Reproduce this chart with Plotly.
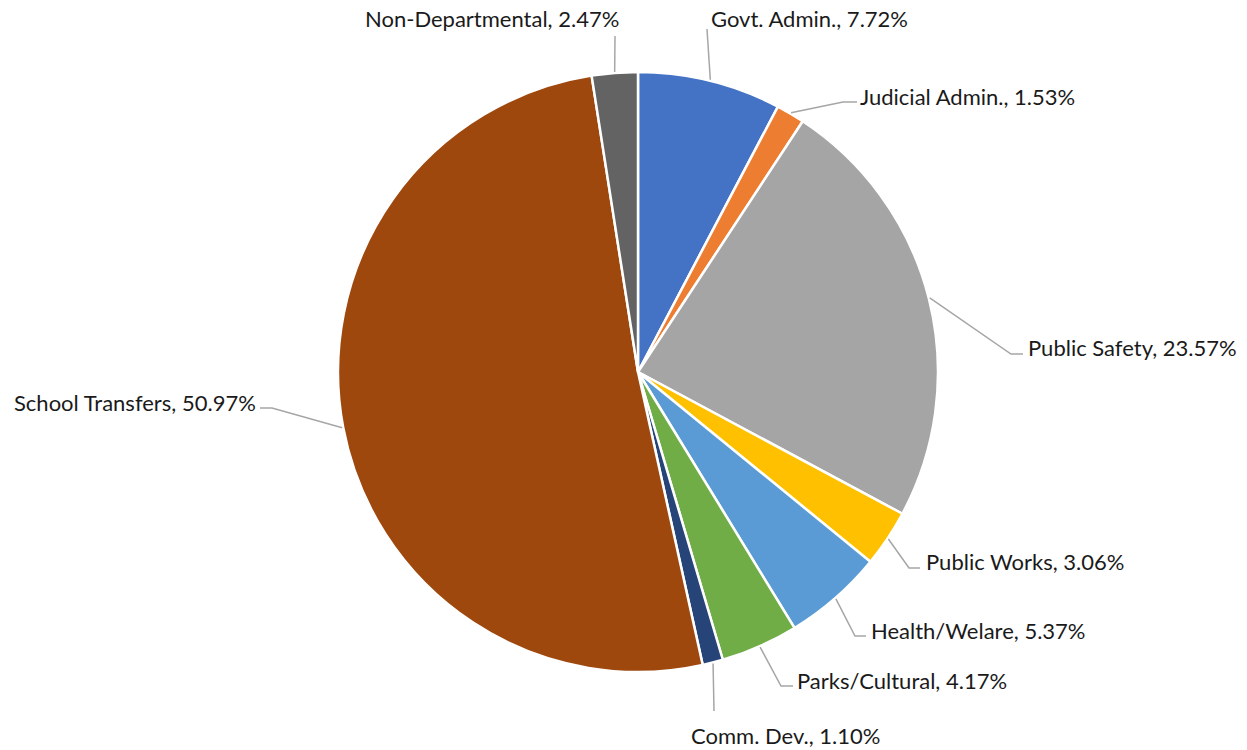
import math
import plotly.graph_objects as go

# Budget shares by function, clockwise from 12 o'clock
categories = ["Govt. Admin.", "Judicial Admin.", "Public Safety", "Public Works",
              "Health/Welare", "Parks/Cultural", "Comm. Dev.", "School Transfers",
              "Non-Departmental"]
shares = [7.72, 1.53, 23.57, 3.06, 5.37, 4.17, 1.10, 50.97, 2.47]

colors = ["#4472C4", "#ED7D31", "#A5A5A5", "#FFC000", "#5B9BD5",
          "#70AD47", "#264478", "#9E480E", "#636363"]

W, H = 1247, 750
CX, CY, R = 638, 372, 300  # pie centre and radius in page pixels

# Label placement (page pixels): leader end point, elbow length, text anchor
# (end_x, end_y, elbow_dx, text_x, text_y, xanchor)
label_layout = [
    (707, 29, 0, 711, 18, "left"),
    (857, 102, -14, 860, 97, "left"),
    (1023, 354, -12, 1028, 347, "left"),
    (920, 568, -11, 926, 561, "left"),
    (866, 636, -11, 871, 630, "left"),
    (793, 686, -12, 797, 680, "left"),
    (714, 711, 0, 785, 735, "center"),
    (260, 408, 12, 256, 402, "right"),
    (615, 36, 0, 492, 18, "center"),
]


def px(x):
    return x / W


def py(y):
    return 1 - y / H


fig = go.Figure(go.Pie(
    labels=categories,
    values=shares,
    sort=False,
    direction="clockwise",
    rotation=0,
    textinfo="none",
    hoverinfo="label+percent",
    marker=dict(colors=colors, line=dict(color="white", width=2.5)),
    domain=dict(x=[px(CX - R), px(CX + R)], y=[py(CY + R), py(CY - R)]),
    showlegend=False,
))

total = sum(shares)
shapes = []
annotations = []
cum = 0.0
for name, val, lay in zip(categories, shares, label_layout):
    mid = (cum + val / 2) / total * 2 * math.pi
    cum += val
    sx = CX + (R + 1) * math.sin(mid)
    sy = CY - (R + 1) * math.cos(mid)
    ex, ey, dx, tx, ty, anchor = lay
    bx = ex + dx
    path = f"M {px(sx)},{py(sy)} L {px(bx)},{py(ey)} L {px(ex)},{py(ey)}"
    shapes.append(dict(type="path", xref="paper", yref="paper", path=path,
                       line=dict(color="#A6A6A6", width=1.5)))
    annotations.append(dict(
        x=px(tx), y=py(ty), xref="paper", yref="paper",
        text=f"{name}, {val:.2f}%", showarrow=False,
        xanchor=anchor, yanchor="middle",
        borderpad=0, borderwidth=0,
        font=dict(family="Lato, 'Open Sans', sans-serif", size=22, color="#1a1a1a"),
    ))

fig.update_layout(
    width=W, height=H,
    margin=dict(l=0, r=0, t=0, b=0),
    paper_bgcolor="white",
    plot_bgcolor="white",
    shapes=shapes,
    annotations=annotations,
)

fig.write_html("out.html")
